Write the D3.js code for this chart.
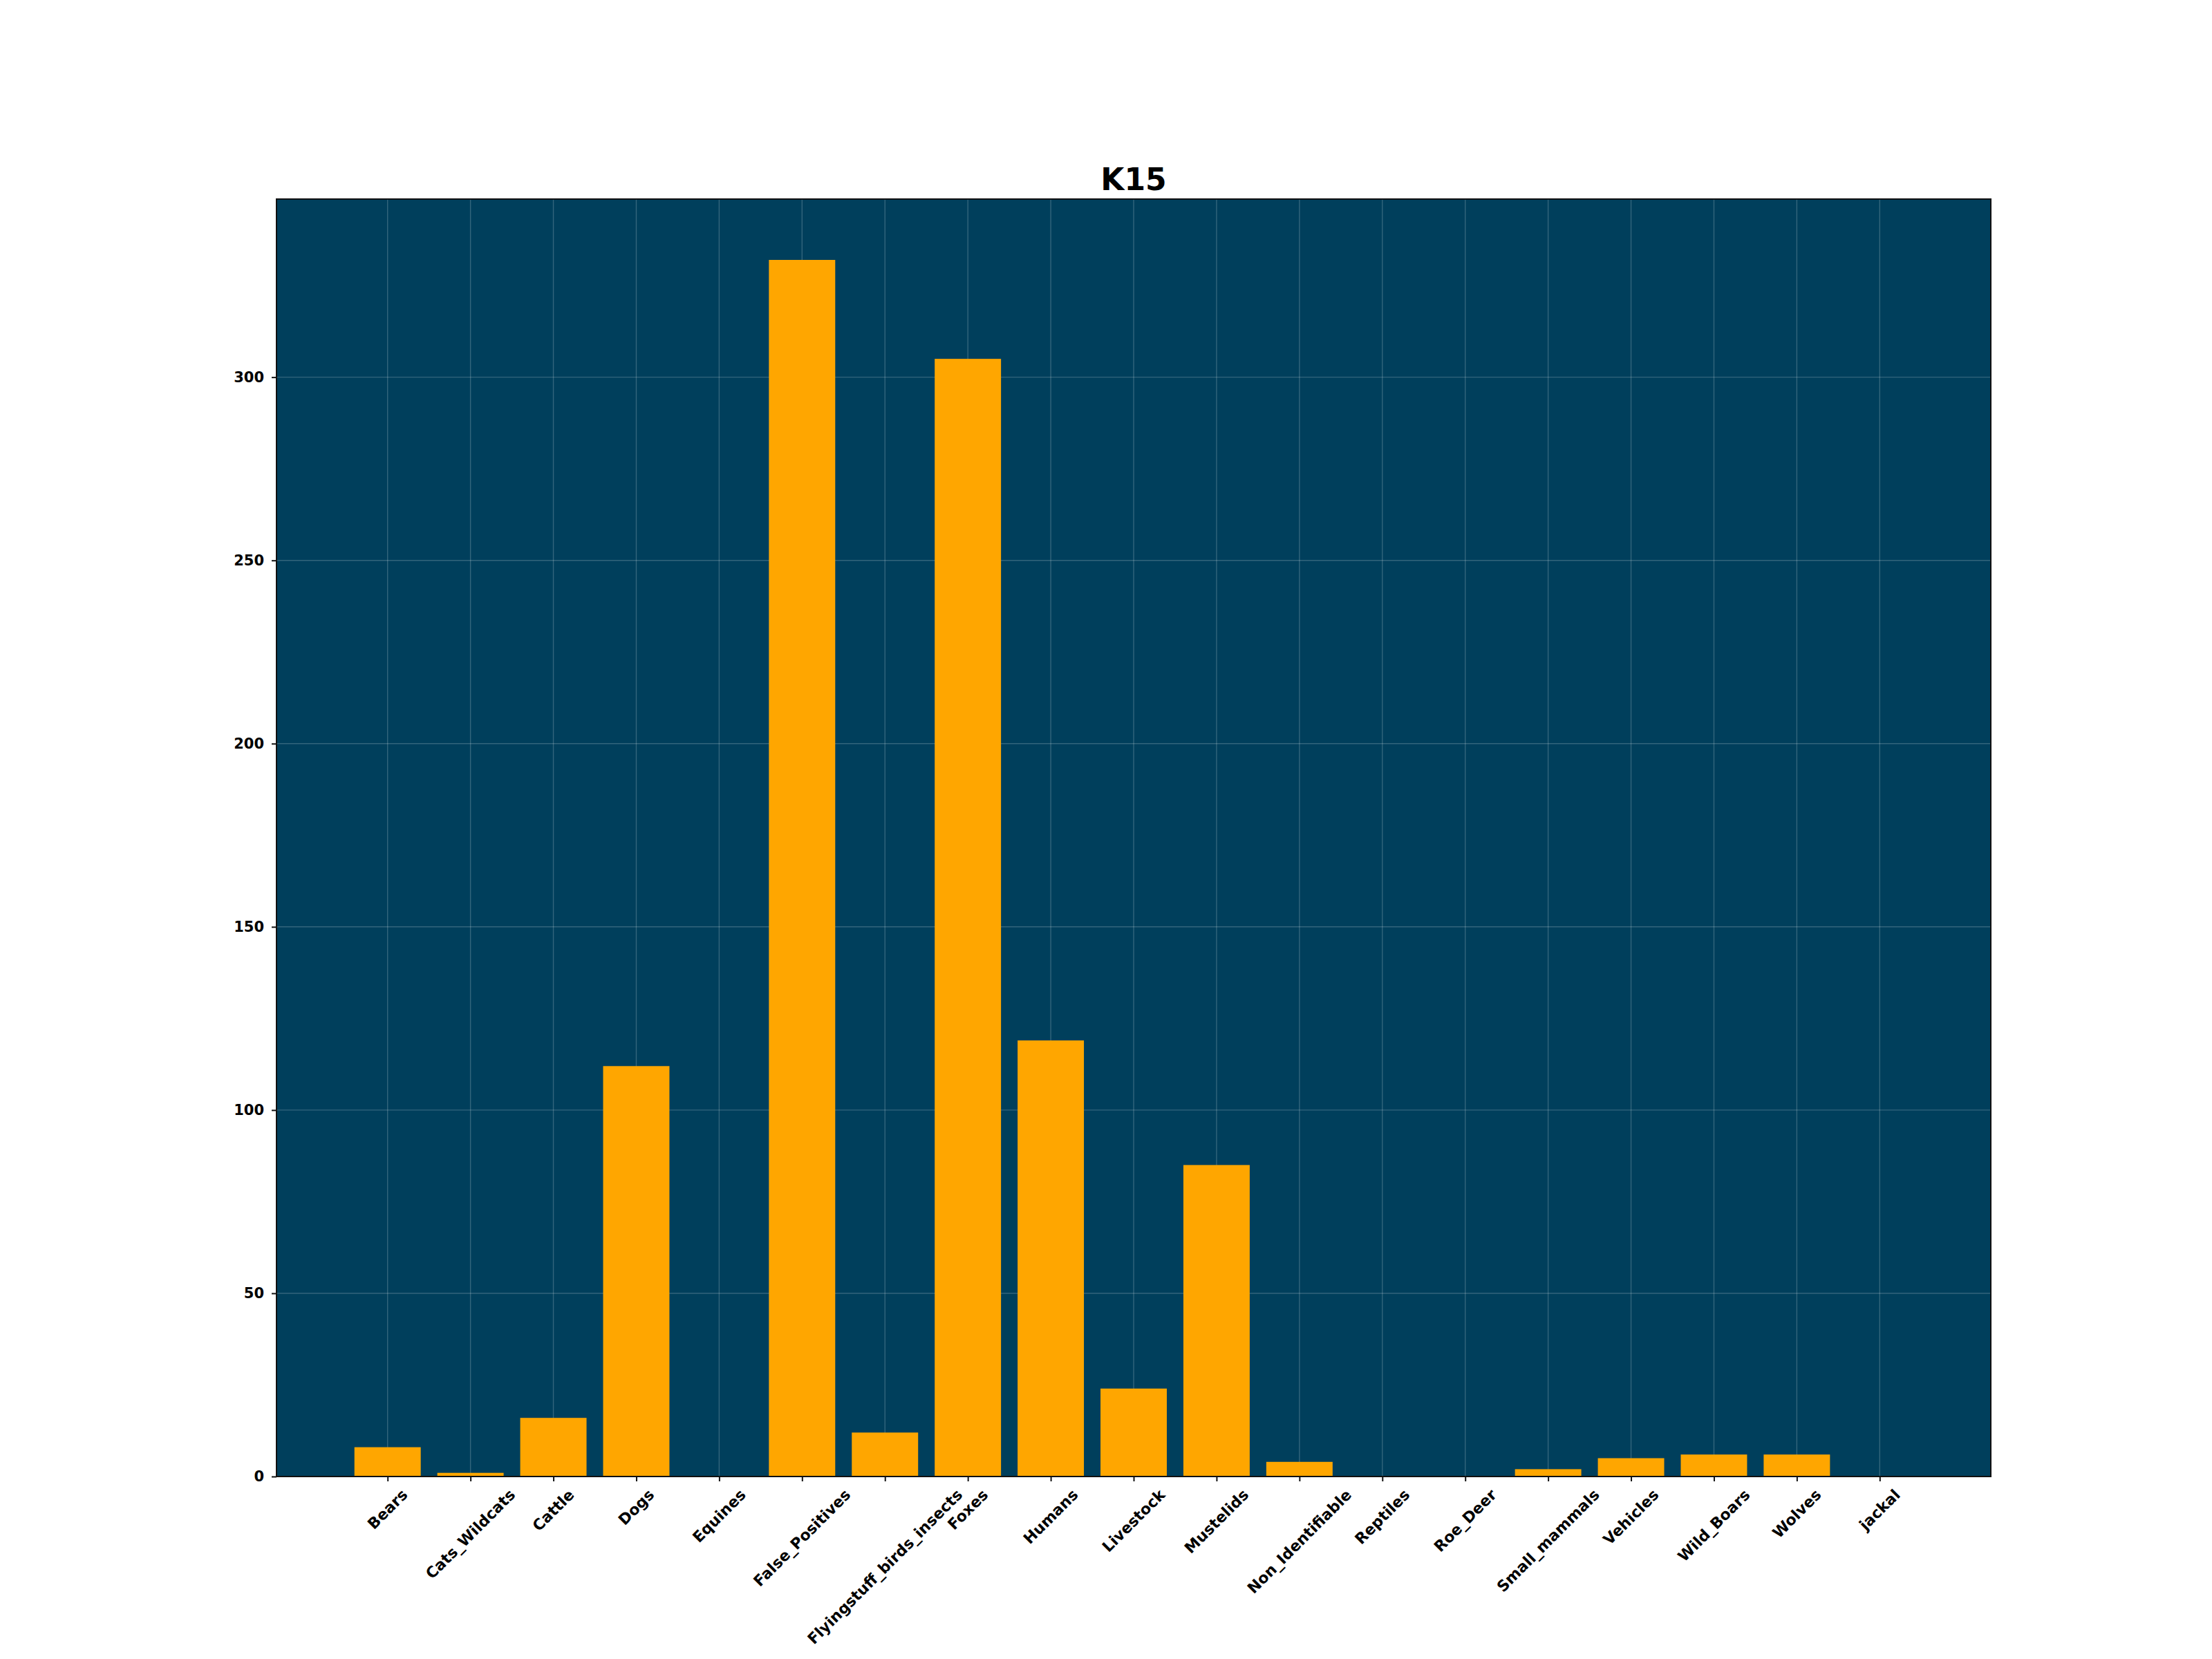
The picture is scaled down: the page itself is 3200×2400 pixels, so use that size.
<!DOCTYPE html>
<html><head><meta charset="utf-8">
<script src="https://cdn.jsdelivr.net/npm/d3@7"></script>
<style>body{margin:0;background:#fff}svg{display:block}text{font-family:"DejaVu Sans",sans-serif;font-weight:bold}</style>
</head><body>
<script>
const categories = ["Bears","Cats_Wildcats","Cattle","Dogs","Equines","False_Positives","Flyingstuff_birds_insects","Foxes","Humans","Livestock","Mustelids","Non_Identifiable","Reptiles","Roe_Deer","Small_mammals","Vehicles","Wild_Boars","Wolves","jackal"];
const counts = [8,1,16,112,0,332,12,305,119,24,85,4,0,0,2,5,6,6,0];
const yTicks = [0,50,100,150,200,250,300];
const title = "K15";

const W=3200,H=2400, L=400,R=2880,T=288,B=2136;
const svg=d3.select("body").append("svg").attr("width",W).attr("height",H);
const n=categories.length;
const marg=0.05*(n-1+0.8);
const x=d3.scaleLinear().domain([-0.4-marg, n-1+0.4+marg]).range([L,R]);
const ymax=d3.max(counts)*1.05;
const y=d3.scaleLinear().domain([0,ymax]).range([B,T]);

svg.append("rect").attr("x",L).attr("y",T).attr("width",R-L).attr("height",B-T).attr("fill","#003f5c");
const g=svg.append("g");
g.selectAll(".gx").data(d3.range(n)).join("line").attr("x1",d=>x(d)).attr("x2",d=>x(d)).attr("y1",T).attr("y2",B)
 .attr("stroke","#ffffff").attr("stroke-opacity",0.2).attr("stroke-width",1.4);
g.selectAll(".gy").data(yTicks).join("line").attr("x1",L).attr("x2",R).attr("y1",d=>y(d)).attr("y2",d=>y(d))
 .attr("stroke","#ffffff").attr("stroke-opacity",0.2).attr("stroke-width",1.4);
const bw=x(0.4)-x(-0.4);
g.selectAll(".bar").data(counts).join("rect").attr("x",(d,i)=>x(i)-bw/2).attr("width",bw)
 .attr("y",d=>y(d)).attr("height",d=>B-y(d)).attr("fill","#ffa600");
svg.append("rect").attr("x",L).attr("y",T).attr("width",R-L).attr("height",B-T).attr("fill","none").attr("stroke","#111").attr("stroke-width",2);
const fs=21, fsx=22;
const ya=svg.append("g").attr("transform",`translate(${L},0)`).call(d3.axisLeft(y).tickValues(yTicks).tickSize(7).tickPadding(11).tickFormat(d3.format("d")));
ya.select(".domain").remove();
ya.selectAll("line").attr("stroke","#111").attr("stroke-width",2);
ya.selectAll("text").attr("font-size",fs).attr("font-family","DejaVu Sans").attr("font-weight","bold").attr("fill","#000");
const xa=svg.append("g").attr("transform",`translate(0,${B})`).call(d3.axisBottom(x).tickValues(d3.range(n)).tickSize(7).tickFormat(""));
xa.select(".domain").remove();
xa.selectAll("line").attr("stroke","#111").attr("stroke-width",2);
const pad=7;
categories.forEach((c,i)=>{
  const t=svg.append("text").text(c).attr("font-size",fsx).attr("text-anchor","middle").attr("dominant-baseline","central");
  const w=t.node().getComputedTextLength();
  const h=fsx*1.1;
  const half=(w+h)/Math.SQRT2/2;
  const cx=x(i), cy=B+7+pad+half;
  t.attr("transform",`translate(${cx},${cy}) rotate(-45)`);
});
svg.append("text").attr("x",(L+R)/2).attr("y",275).attr("text-anchor","middle").attr("font-size",44).text(title);
</script>
</body></html>
